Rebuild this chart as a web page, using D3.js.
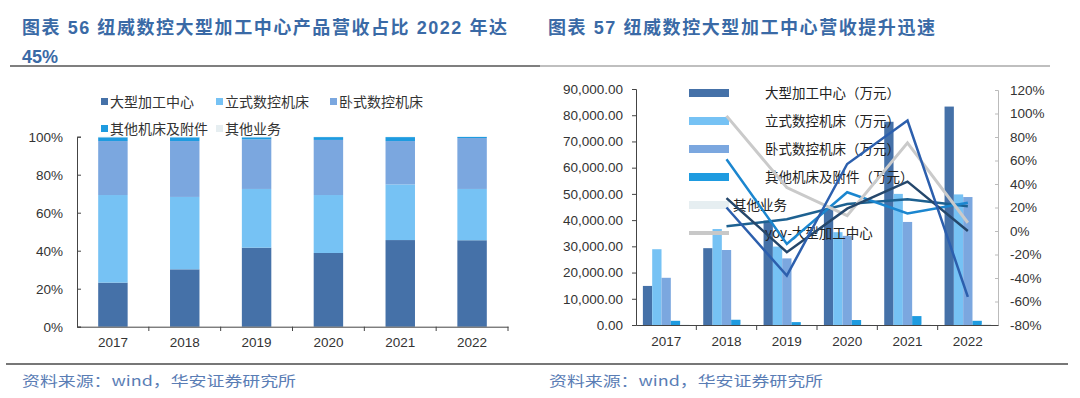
<!DOCTYPE html>
<html>
<head>
<meta charset="utf-8">
<script src="https://cdn.jsdelivr.net/npm/d3@7"></script>
<style>
  body { margin: 0; background: #fff; }
  svg { display: block; }
  .tick text { fill: #333; }
</style>
</head>
<body>
<svg width="1080" height="398"></svg>
<script>
// 年份
var years = ["2017", "2018", "2019", "2020", "2021", "2022"];
var seriesNames = ["大型加工中心", "立式数控机床", "卧式数控机床", "其他机床及附件", "其他业务"];

// 左图: 营收占比 (%)
var shareLarge = [23.2, 30.2, 41.6, 38.8, 45.6, 45.5];
var shareVertical = [46.1, 38.1, 30.9, 30.5, 29.3, 27.0];
var shareHorizontal = [28.4, 29.4, 26.1, 29.0, 22.8, 26.8];
var shareOtherMachine = [2.0, 2.0, 1.1, 1.5, 2.1, 0.6];
var shareOtherBiz = [0.3, 0.3, 0.3, 0.2, 0.2, 0.1];

// 右图: 营收 (万元)
var revLarge = [14900, 29300, 39800, 44200, 77500, 83300];
var revVertical = [28900, 36600, 29900, 35400, 50000, 49800];
var revHorizontal = [18000, 28600, 25400, 34000, 39300, 48800];
var revOtherMachine = [1600, 2000, 1100, 1900, 3400, 1600];
var revOtherBiz = [200, 200, 100, 150, 200, 400];

// 右图: 同比 (%), 2018-2022
var yoyLarge = [98, 37, 13, 75, 7];
var yoyVertical = [28, -18, 19, 42, 0];
var yoyHorizontal = [61, -11, 33, 15, 24];
var yoyOtherMachine = [20, -38, 57, 94, -56];
var yoyOtherBiz = [4, 10, 23, 27, 21];

// 刻度
var shareTicks = [0, 20, 40, 60, 80, 100];
var revTicks = [0, 10000, 20000, 30000, 40000, 50000, 60000, 70000, 80000, 90000];
var yoyTicks = [-80, -60, -40, -20, 0, 20, 40, 60, 80, 100, 120];

var colors = ["#4571a8", "#76c2f4", "#7ba7df", "#1e9be0", "#e6eef1"];
var fontCn = '"Noto Sans CJK SC", sans-serif';
var fontNum = '"Liberation Sans", "Noto Sans CJK SC", sans-serif';
var titleColor = "#3a6aa6";

const svg = d3.select('svg');

// ---------- 标题 ----------
svg.append("text").attr("x", 22).attr("y", 34)
    .attr("font-family", fontNum).attr("font-weight", "bold").attr("font-size", 18)
    .attr("fill", titleColor).attr("textLength", 485).attr("lengthAdjust", "spacing")
    .text("图表 56 纽威数控大型加工中心产品营收占比 2022 年达");
svg.append("text").attr("x", 22).attr("y", 63)
    .attr("font-family", fontNum).attr("font-weight", "bold").attr("font-size", 18)
    .attr("fill", titleColor).text("45%");
svg.append("text").attr("x", 548).attr("y", 34)
    .attr("font-family", fontNum).attr("font-weight", "bold").attr("font-size", 18)
    .attr("fill", titleColor).attr("textLength", 387).attr("lengthAdjust", "spacing")
    .text("图表 57 纽威数控大型加工中心营收提升迅速");

svg.append("line").attr("x1", 10).attr("x2", 540).attr("y1", 66).attr("y2", 66)
    .attr("stroke", "#555").attr("stroke-width", 1.5);
svg.append("line").attr("x1", 540).attr("x2", 1050).attr("y1", 66).attr("y2", 66)
    .attr("stroke", "#aaa").attr("stroke-width", 1.5);
svg.append("line").attr("x1", 6).attr("x2", 1068).attr("y1", 364).attr("y2", 364)
    .attr("stroke", "#777").attr("stroke-width", 2);

// 资料来源
[22, 549].forEach(function (x) {
    svg.append("text").attr("x", x).attr("y", 386)
        .attr("font-family", fontCn).attr("font-size", 14).attr("fill", "#5a7db5")
        .attr("textLength", 274).attr("lengthAdjust", "spacingAndGlyphs")
        .text("资料来源：wind，华安证券研究所");
});

// ---------- 左图: 堆叠柱状 ----------
var stackRows = years.map(function (y, i) {
    return {
        year: y,
        "大型加工中心": shareLarge[i],
        "立式数控机床": shareVertical[i],
        "卧式数控机床": shareHorizontal[i],
        "其他机床及附件": shareOtherMachine[i],
        "其他业务": shareOtherBiz[i]
    };
});
var stacked = d3.stack().keys(seriesNames)(stackRows);

const xL = d3.scaleBand().domain(years).range([77, 508]).paddingInner(0.59).paddingOuter(0.295);
const xLb = d3.scaleBand().domain(years).range([77, 508]);
const yL = d3.scaleLinear().domain([0, 100]).range([326.7, 136.7]);

const gL = svg.append("g");
gL.selectAll(".layer").data(stacked).enter().append("g")
    .attr("fill", function (d, i) { return colors[i]; })
    .selectAll("rect").data(function (d) { return d; }).enter().append("rect")
    .attr("x", function (d) { return xL(d.data.year); })
    .attr("width", xL.bandwidth())
    .attr("y", function (d) { return yL(d[1]); })
    .attr("height", function (d) { return yL(d[0]) - yL(d[1]); });

var yAxisL = gL.append("g").attr("transform", "translate(77,0)")
    .call(d3.axisLeft(yL).tickValues(shareTicks).tickSize(-4).tickPadding(14)
        .tickFormat(function (d) { return d + "%"; }));
yAxisL.selectAll("text").attr("font-family", fontNum).attr("font-size", 13.5);
yAxisL.selectAll("line, path").attr("stroke", "#444");

var xAxisL = gL.append("g").attr("transform", "translate(0,326.7)")
    .call(d3.axisBottom(xLb).tickSize(0).tickPadding(11).tickSizeOuter(0));
xAxisL.selectAll("text").attr("font-family", fontNum).attr("font-size", 13.5);
xAxisL.select("path").attr("stroke", "#444");
gL.selectAll(".sepL").data(years).enter().append("line")
    .attr("x1", function (d) { return xLb(d) + xLb.bandwidth(); })
    .attr("x2", function (d) { return xLb(d) + xLb.bandwidth(); })
    .attr("y1", 326.7).attr("y2", 331).attr("stroke", "#444");

// 左图图例
var legL = [[101, 102], [216, 102], [330, 102], [101, 129], [216, 129]];
seriesNames.forEach(function (n, i) {
    gL.append("rect").attr("x", legL[i][0]).attr("y", legL[i][1] - 4)
        .attr("width", 7).attr("height", 7).attr("fill", colors[i]);
    gL.append("text").attr("x", legL[i][0] + 9).attr("y", legL[i][1])
        .attr("dy", "0.35em").attr("font-family", fontCn).attr("font-size", 14)
        .attr("fill", "#333").text(n);
});

// ---------- 右图: 分组柱状 + 同比折线 ----------
var revSeries = [revLarge, revVertical, revHorizontal, revOtherMachine, revOtherBiz];
const xR = d3.scaleBand().domain(years).range([636, 998]);
const xR1 = d3.scaleBand().domain(seriesNames).range([0, xR.bandwidth()])
    .paddingInner(0).paddingOuter(0.74);
const yR = d3.scaleLinear().domain([0, 90000]).range([325, 89]);
const yY = d3.scaleLinear().domain([-80, 120]).range([325, 90]);

const gR = svg.append("g");
revSeries.forEach(function (vals, s) {
    gR.append("g").attr("fill", colors[s]).selectAll("rect").data(vals).enter().append("rect")
        .attr("x", function (d, i) { return xR(years[i]) + xR1(seriesNames[s]); })
        .attr("width", xR1.bandwidth())
        .attr("y", function (d) { return yR(d); })
        .attr("height", function (d) { return yR(0) - yR(d); });
});

var yAxisR = gR.append("g").attr("transform", "translate(636,0)")
    .call(d3.axisLeft(yR).tickValues(revTicks).tickSize(4).tickPadding(9)
        .tickFormat(d3.format(",.2f")));
yAxisR.selectAll("text").attr("font-family", fontNum).attr("font-size", 13.5);
yAxisR.selectAll("line, path").attr("stroke", "#444");

var yAxisY = gR.append("g").attr("transform", "translate(998,0)")
    .call(d3.axisRight(yY).tickValues(yoyTicks).tickSize(-3).tickPadding(12)
        .tickFormat(function (d) { return d + "%"; }));
yAxisY.selectAll("text").attr("font-family", fontNum).attr("font-size", 13.5);
yAxisY.selectAll("line, path").attr("stroke", "#bbb");

var xAxisR = gR.append("g").attr("transform", "translate(0,325)")
    .call(d3.axisBottom(xR).tickSize(0).tickPadding(11).tickSizeOuter(0));
xAxisR.selectAll("text").attr("font-family", fontNum).attr("font-size", 13.5);
xAxisR.select("path").attr("stroke", "#444");
gR.selectAll(".sepR").data(years.slice(0, 5)).enter().append("line")
    .attr("x1", function (d) { return xR(d) + xR.bandwidth(); })
    .attr("x2", function (d) { return xR(d) + xR.bandwidth(); })
    .attr("y1", 325).attr("y2", 330).attr("stroke", "#444");

// 右图图例
var legNames = ["大型加工中心（万元）", "立式数控机床（万元）", "卧式数控机床（万元）", "其他机床及附件（万元）", "其他业务", "yoy-大型加工中心"];
legNames.forEach(function (n, i) {
    var y = 93 + i * 28;
    if (i < 5) {
        gR.append("rect").attr("x", 689).attr("y", y - 4).attr("width", 40).attr("height", 8)
            .attr("fill", colors[i]);
    } else {
        gR.append("line").attr("x1", 689).attr("x2", 729).attr("y1", y).attr("y2", y)
            .attr("stroke", "#c8c8c8").attr("stroke-width", 4);
    }
    gR.append("text").attr("x", i == 4 ? 733 : 765).attr("y", y).attr("dy", "0.35em")
        .attr("font-family", fontCn).attr("font-size", 13.5).attr("fill", "#222").text(n);
});

// 同比折线
var yoyLines = [
    { vals: yoyOtherBiz, color: "#1d6191", w: 2.5 },
    { vals: yoyHorizontal, color: "#1b86cf", w: 2.5 },
    { vals: yoyLarge, color: "#cacaca", w: 3 },
    { vals: yoyVertical, color: "#25476b", w: 2.5 },
    { vals: yoyOtherMachine, color: "#2c5fad", w: 2.5 }
];
var line = d3.line()
    .x(function (d, i) { return xR(years[i + 1]) + xR.bandwidth() / 2; })
    .y(function (d) { return yY(d); });
yoyLines.forEach(function (l) {
    gR.append("path").datum(l.vals).attr("d", line)
        .attr("fill", "none").attr("stroke", l.color).attr("stroke-width", l.w);
});
</script>
</body>
</html>
